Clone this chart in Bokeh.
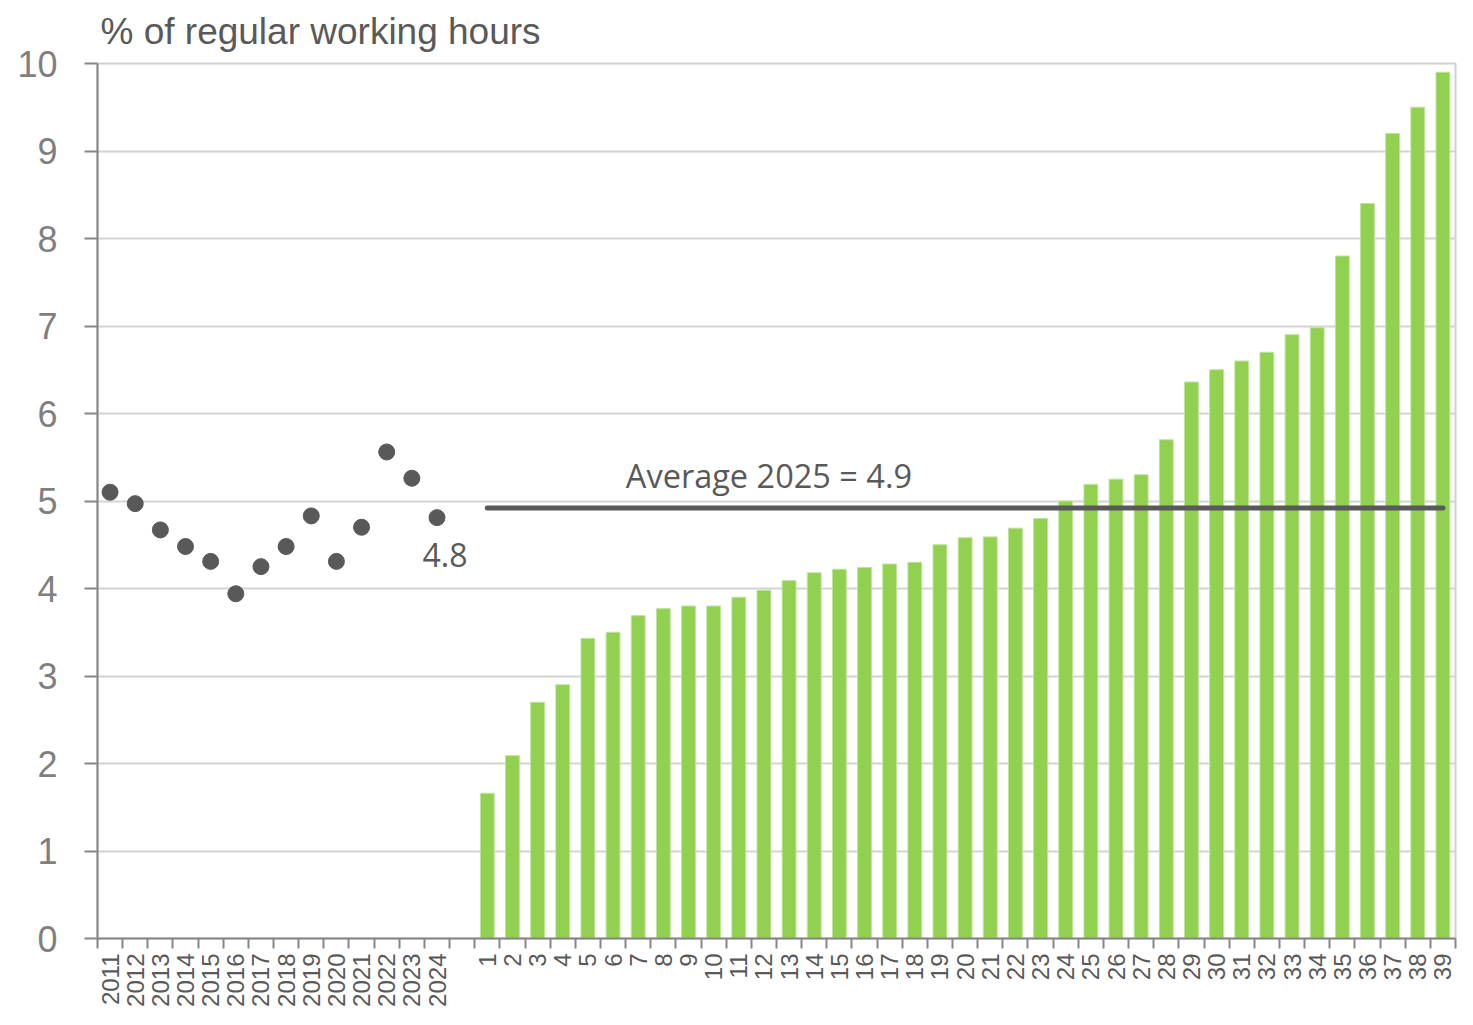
import math
from bokeh.plotting import figure
from bokeh.models import Range1d, FixedTicker, Label
from bokeh.embed import file_html
from bokeh.resources import INLINE

# ---------------- data ----------------
years = ["2011", "2012", "2013", "2014", "2015", "2016", "2017",
         "2018", "2019", "2020", "2021", "2022", "2023", "2024"]
year_values = [5.10, 4.97, 4.67, 4.48, 4.31, 3.94, 4.25,
               4.48, 4.83, 4.31, 4.70, 5.56, 5.26, 4.81]

countries = ["1", "2", "3", "4", "5", "6", "7", "8", "9", "10",
             "11", "12", "13", "14", "15", "16", "17", "18", "19", "20",
             "21", "22", "23", "24", "25", "26", "27", "28", "29", "30",
             "31", "32", "33", "34", "35", "36", "37", "38", "39"]
country_values = [1.66, 2.09, 2.70, 2.90, 3.43, 3.50, 3.69, 3.77, 3.80, 3.80,
                  3.90, 3.98, 4.09, 4.18, 4.22, 4.24, 4.28, 4.30, 4.50, 4.58,
                  4.59, 4.69, 4.80, 5.00, 5.19, 5.25, 5.30, 5.70, 6.36, 6.50,
                  6.60, 6.70, 6.90, 6.98, 7.80, 8.40, 9.20, 9.50, 9.90]

avg_2025 = 4.92
y_ticks = [0, 1, 2, 3, 4, 5, 6, 7, 8, 9, 10]

# ---------------- positions on a shared category axis ----------------
gap = 1
year_x = list(range(len(years)))
country_x = [len(years) + gap + i for i in range(len(countries))]
n_total = len(years) + gap + len(countries)
centers = year_x + country_x
labels = years + countries
boundaries = [i - 0.5 for i in range(n_total + 1)]

AXIS = "#868686"
DARK = "#595959"

p = figure(width=1457, height=1009, output_backend="svg", toolbar_location=None,
           x_range=Range1d(-0.5, n_total - 0.5), y_range=Range1d(0, 10),
           min_border_left=97, min_border_right=2, min_border_top=63, min_border_bottom=69)

p.title.text = "% of regular working hours"
p.title.text_font = "Liberation Sans"
p.title.text_font_size = "37px"
p.title.text_font_style = "normal"
p.title.text_color = DARK
p.title.align = "left"
p.title.vertical_align = "top"
p.title.text_line_height = 0.75
p.title.offset = 3
p.title.standoff = 20

p.background_fill_color = "white"
p.border_fill_color = "white"
p.outline_line_color = "#d0d0d0"
p.outline_line_width = 2

# grids
p.xgrid.visible = False
p.ygrid.ticker = FixedTicker(ticks=y_ticks)
p.ygrid.grid_line_color = "#d4d4d4"
p.ygrid.grid_line_width = 2

# x axis
xa = p.xaxis[0]
xa.ticker = FixedTicker(ticks=centers, minor_ticks=boundaries)
xa.major_label_overrides = {c: l for c, l in zip(centers, labels)}
xa.major_tick_out = 0
xa.major_tick_in = 0
xa.minor_tick_out = 10
xa.minor_tick_in = 0
xa.minor_tick_line_color = AXIS
xa.minor_tick_line_width = 2
xa.axis_line_color = AXIS
xa.axis_line_width = 2
xa.major_label_orientation = math.pi / 2
xa.major_label_standoff = 5
xa.major_label_text_font = "Liberation Sans"
xa.major_label_text_font_size = "24px"
xa.major_label_text_color = DARK

# y axis
ya = p.yaxis[0]
ya.ticker = FixedTicker(ticks=y_ticks)
ya.major_tick_out = 13
ya.major_tick_in = 0
ya.major_tick_line_color = AXIS
ya.major_tick_line_width = 2
ya.minor_tick_line_color = None
ya.axis_line_color = AXIS
ya.axis_line_width = 2
ya.major_label_standoff = 27
ya.major_label_text_font = "Liberation Sans"
ya.major_label_text_font_size = "36px"
ya.major_label_text_color = "#7f7f7f"

# bars for 2025
p.vbar(x=country_x, top=country_values, bottom=0, width=0.55,
       fill_color="#92D050", line_color="#bfe39b", line_width=1)

# historic dots
p.scatter(x=year_x, y=year_values, size=16, fill_color=DARK, line_color=DARK)

# average line
p.segment(x0=[country_x[0]], x1=[country_x[-1]], y0=[avg_2025], y1=[avg_2025],
          line_color=DARK, line_width=5, line_cap="round")

p.add_layout(Label(x=26.2, y=avg_2025, text=f"Average 2025 = {avg_2025:.1f}",
                   text_align="center", text_baseline="alphabetic", y_offset=33,
                   text_font="Open Sans", text_font_size="32.5px", text_color=DARK))

p.add_layout(Label(x=year_x[-1], y=year_values[-1], text=f"{year_values[-1]:.1f}",
                   text_align="center", text_baseline="alphabetic",
                   x_offset=8, y_offset=-37,
                   text_font="Open Sans", text_font_size="32px", text_color=DARK))

open("out.html", "w").write(file_html(p, INLINE))
